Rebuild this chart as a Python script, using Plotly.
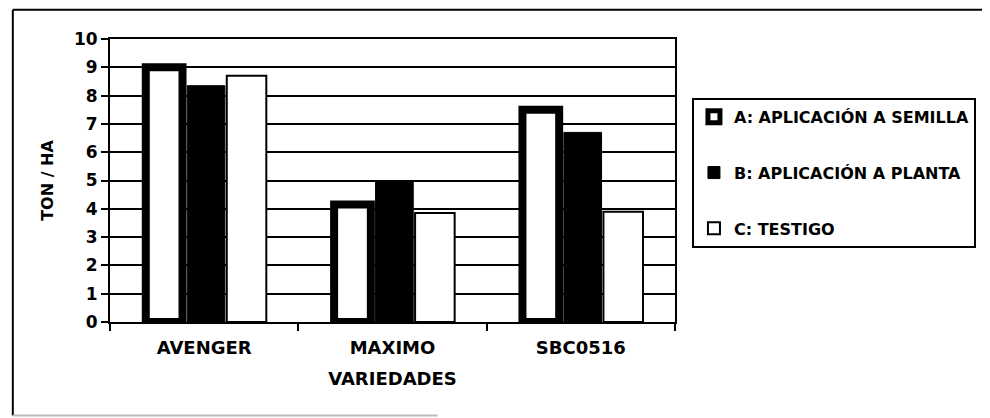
import plotly.graph_objects as go

categories = ["AVENGER", "MAXIMO", "SBC0516"]
series_names = ["A: APLICACIÓN A SEMILLA", "B: APLICACIÓN A PLANTA", "C: TESTIGO"]
vals_a = [9.0, 4.15, 7.5]
vals_b = [8.35, 5.0, 6.7]
vals_c = [8.7, 3.85, 3.9]
y_ticks = list(range(0, 11))

FONT = "DejaVu Sans, Liberation Sans, Arial, sans-serif"

fig = go.Figure()
fig.add_trace(go.Bar(
    x=categories, y=vals_a, name=series_names[0], legendgroup="a",
    offset=-0.31, width=0.195,
    marker=dict(color="white", line=dict(color="black", width=8)),
))
fig.add_trace(go.Bar(
    x=categories, y=vals_b, name=series_names[1], legendgroup="b",
    offset=-0.09, width=0.2,
    marker=dict(color="black", line=dict(color="black", width=1)),
))
fig.add_trace(go.Bar(
    x=categories, y=vals_c, name=series_names[2], legendgroup="c",
    offset=0.12, width=0.21,
    marker=dict(color="white", line=dict(color="black", width=2)),
))

fig.update_layout(
    width=990, height=418,
    margin=dict(l=102, r=323, t=31, b=104),
    paper_bgcolor="white", plot_bgcolor="white",
    font=dict(family=FONT, color="black", size=16, weight=700),
    barmode="group",
    showlegend=True,
    legend=dict(
        x=1.03, xanchor="left", y=0.792, yanchor="top",
        bordercolor="black", borderwidth=2, bgcolor="white",
        font=dict(size=16, family=FONT, weight=700),
        tracegroupgap=32, itemwidth=30,
    ),
    xaxis=dict(
        showline=True, linecolor="black", linewidth=2, mirror=True,
        ticks="outside", tickson="boundaries", ticklen=7, tickcolor="black", tickwidth=2,
        ticklabelstandoff=8,
        tickfont=dict(size=18, family=FONT, weight=700),
        title=dict(text="VARIEDADES", font=dict(size=18, family=FONT, weight=700), standoff=16),
        showgrid=False,
    ),
    yaxis=dict(
        range=[0, 10], tickvals=y_ticks,
        showline=True, linecolor="black", linewidth=2, mirror=True,
        ticks="outside", ticklen=7, tickcolor="black", tickwidth=2,
        showgrid=True, gridcolor="black", gridwidth=2,
        tickfont=dict(size=17, family=FONT, weight=700),
        title=dict(text="TON / HA", font=dict(size=16, family=FONT, weight=700), standoff=16),
        zeroline=False,
    ),
)

# outer frame of the scanned chart area
fig.add_shape(type="line", xref="paper", yref="paper", x0=-0.172, x1=1.58, y0=1.103, y1=1.103,
              line=dict(color="black", width=2))
fig.add_shape(type="line", xref="paper", yref="paper", x0=-0.172, x1=-0.172, y0=1.103, y1=-0.33,
              line=dict(color="black", width=2))
fig.add_shape(type="line", xref="paper", yref="paper", x0=-0.172, x1=0.58, y0=-0.33, y1=-0.33,
              line=dict(color="#bbbbbb", width=2))

fig.write_html("out.html")
